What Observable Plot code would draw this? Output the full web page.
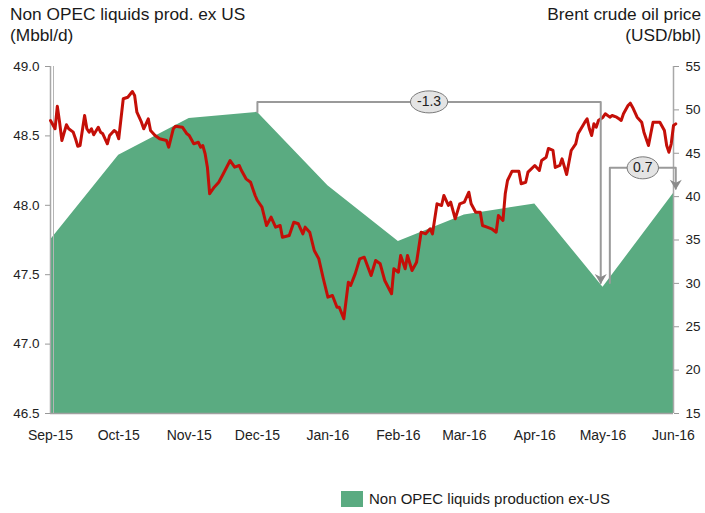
<!DOCTYPE html>
<html><head><meta charset="utf-8">
<script src="https://cdn.jsdelivr.net/npm/d3@7"></script>
<script src="https://cdn.jsdelivr.net/npm/@observablehq/plot@0.6"></script>
<style>
body{margin:0;background:#fff;font-family:"Liberation Sans",Arial,sans-serif;}
#wrap{position:relative;width:705px;height:513px;overflow:hidden;}
#chart{position:absolute;left:0;top:0;}
.title{position:absolute;top:4px;font-size:17.3px;line-height:21px;color:#1a1a1a;white-space:nowrap;}
#tl{left:10px;}
#tr{right:4px;text-align:right;}
#legend{position:absolute;left:341px;top:490px;display:flex;align-items:center;font-size:15px;color:#1a1a1a;white-space:nowrap;}
#legend .sw{width:22px;height:16px;background:#5aab81;margin-right:6px;}
</style></head>
<body>
<div id="wrap">
  <div id="chart"></div>
  <div class="title" id="tl">Non OPEC liquids prod. ex US<br>(Mbbl/d)</div>
  <div class="title" id="tr">Brent crude oil price<br>(USD/bbl)</div>
  <div id="legend"><div class="sw"></div><span>Non OPEC liquids production ex-US</span></div>
</div>
<script>
// ---- Data ----
const prodMonths = ["2015-09-01","2015-10-01","2015-11-01","2015-12-01","2016-01-01","2016-02-01","2016-03-01","2016-04-01","2016-05-01","2016-06-01"];
const prodValues = [47.75, 48.36, 48.625, 48.67, 48.14, 47.74, 47.93, 48.01, 47.41, 48.085];

const leftTicks = [46.5, 47.0, 47.5, 48.0, 48.5, 49.0];
const rightTicks = [15, 20, 25, 30, 35, 40, 45, 50, 55];

const brentDates = [
"2015-09-01","2015-09-03","2015-09-04","2015-09-05","2015-09-06","2015-09-08","2015-09-09","2015-09-11","2015-09-12","2015-09-13",
"2015-09-14","2015-09-16","2015-09-17","2015-09-18","2015-09-19","2015-09-20","2015-09-22","2015-09-23","2015-09-24","2015-09-26",
"2015-09-27","2015-09-29","2015-09-30","2015-10-01","2015-10-03","2015-10-05","2015-10-07","2015-10-08","2015-10-09","2015-10-11",
"2015-10-12","2015-10-14","2015-10-15","2015-10-17","2015-10-19","2015-10-22","2015-10-23","2015-10-25","2015-10-26","2015-10-29",
"2015-10-31","2015-11-01","2015-11-03","2015-11-05","2015-11-06","2015-11-07","2015-11-08","2015-11-09","2015-11-10","2015-11-12",
"2015-11-14","2015-11-16","2015-11-19","2015-11-21","2015-11-23","2015-11-24","2015-11-26","2015-11-28","2015-11-30","2015-12-01",
"2015-12-03","2015-12-05","2015-12-07","2015-12-09","2015-12-11","2015-12-12","2015-12-15","2015-12-17","2015-12-19","2015-12-21",
"2015-12-22","2015-12-24","2015-12-26","2015-12-28","2015-12-30","2016-01-01","2016-01-03","2016-01-05","2016-01-06","2016-01-08",
"2016-01-10","2016-01-11","2016-01-13","2016-01-15","2016-01-17","2016-01-20","2016-01-22","2016-01-24","2016-01-26","2016-01-29",
"2016-01-30","2016-02-01","2016-02-02","2016-02-04","2016-02-05","2016-02-07","2016-02-09","2016-02-11","2016-02-13","2016-02-15",
"2016-02-16","2016-02-18","2016-02-20","2016-02-21","2016-02-23","2016-02-24","2016-02-26","2016-02-28","2016-03-01","2016-03-03",
"2016-03-04","2016-03-06","2016-03-08","2016-03-09","2016-03-11","2016-03-13","2016-03-15","2016-03-16","2016-03-18","2016-03-19",
"2016-03-20","2016-03-22","2016-03-25","2016-03-26","2016-03-28","2016-03-29","2016-04-01","2016-04-03","2016-04-04","2016-04-06",
"2016-04-07","2016-04-09","2016-04-10","2016-04-12","2016-04-13","2016-04-15","2016-04-16","2016-04-17","2016-04-19","2016-04-20",
"2016-04-23","2016-04-24","2016-04-25","2016-04-26","2016-04-27","2016-04-28","2016-04-29","2016-05-01","2016-05-02","2016-05-04",
"2016-05-05","2016-05-07","2016-05-08","2016-05-09","2016-05-10","2016-05-12","2016-05-13","2016-05-14","2016-05-15","2016-05-16",
"2016-05-18","2016-05-19","2016-05-21","2016-05-22","2016-05-23","2016-05-25","2016-05-26","2016-05-28","2016-05-29","2016-05-30",
"2016-05-31","2016-06-01","2016-06-02"];
const brentPrices = [
48.78,47.82,50.42,48.58,46.47,48.28,47.82,47.43,46.67,45.81,
45.89,49.35,47.82,47.43,47.82,47.13,48.00,47.43,47.24,46.09,
47.05,47.62,47.43,46.67,51.28,51.46,52.12,51.66,49.73,48.58,
47.82,48.97,47.62,47.05,46.67,46.47,45.70,47.82,48.12,48.00,
47.24,47.05,46.09,46.27,45.70,45.89,44.94,43.40,40.33,41.09,
41.66,42.63,44.16,43.40,43.59,43.01,42.05,41.66,40.13,39.55,
38.78,36.67,37.63,36.48,36.67,35.32,35.52,37.05,36.87,35.71,
36.48,35.90,33.79,32.83,30.53,28.41,28.60,27.25,27.25,25.92,
30.14,29.76,31.10,32.83,33.02,30.91,32.64,32.26,30.33,28.80,
31.68,31.29,33.21,31.68,33.21,31.48,32.44,35.90,35.71,36.29,
35.71,39.17,38.98,40.13,38.98,39.36,37.44,39.17,39.36,40.51,
39.17,38.20,38.20,36.67,36.48,36.29,35.90,37.82,37.25,40.33,
41.86,42.93,42.93,41.48,41.66,42.82,43.59,43.01,44.16,44.54,
45.55,45.32,43.36,43.59,44.36,42.55,43.93,45.32,46.09,47.24,
48.58,48.97,47.82,47.05,48.39,48.00,48.78,49.16,49.55,49.16,
49.35,49.16,48.97,48.78,49.55,50.50,50.77,50.31,49.73,49.16,
48.58,47.43,45.89,47.24,48.58,48.58,48.58,47.62,45.89,45.12,
46.09,48.20,48.39];

// Change annotations (bracket from start to end, level of the horizontal bar)
const annoLabels = ["-1.3", "0.7"];
const annoStart = ["2015-12-01", "2016-05-04"];
const annoEnd = ["2016-04-30", "2016-06-02"];
const annoStartVal = [48.67, 47.44];
const annoEndVal = [47.44, 48.12];
const annoLevel = [48.745, 48.27];

// ---- Build ----
const parse = s => new Date(s + "T00:00:00Z");
const leftMin = 46.5, leftMax = 49, rightMin = 15, rightMax = 55;
const toLeft = v => leftMin + (v - rightMin) * (leftMax - leftMin) / (rightMax - rightMin);
const fromLeft = y => rightMin + (y - leftMin) * (rightMax - rightMin) / (leftMax - leftMin);

const prod = prodMonths.map((d, i) => ({date: parse(d), value: prodValues[i]}));
const brent = brentDates.map((d, i) => ({date: parse(d), price: brentPrices[i]}));
const annos = annoLabels.map((label, i) => {
  const s = parse(annoStart[i]), e = parse(annoEnd[i]);
  return {label, s, e, mid: new Date((+s + +e) / 2), sv: annoStartVal[i], ev: annoEndVal[i], level: annoLevel[i]};
});
const bracketPts = annos.flatMap((a, i) => [
  {id: i, x: a.s, y: a.sv}, {id: i, x: a.s, y: a.level},
  {id: i, x: a.e, y: a.level}, {id: i, x: a.e, y: a.ev}
]);

const ellipse = (rx, ry) => ({draw(ctx) {
  const k = 0.5523;
  ctx.moveTo(rx, 0);
  ctx.bezierCurveTo(rx, ry * k, rx * k, ry, 0, ry);
  ctx.bezierCurveTo(-rx * k, ry, -rx, ry * k, -rx, 0);
  ctx.bezierCurveTo(-rx, -ry * k, -rx * k, -ry, 0, -ry);
  ctx.bezierCurveTo(rx * k, -ry, rx, -ry * k, rx, 0);
  ctx.closePath();
}});
const arrowHead = {draw(ctx) {
  ctx.moveTo(0, 1); ctx.lineTo(-6, -9); ctx.lineTo(0, -6); ctx.lineTo(6, -9); ctx.closePath();
}};

const chart = Plot.plot({
  width: 705, height: 513,
  marginTop: 66, marginBottom: 100, marginLeft: 50, marginRight: 32,
  x: {type: "utc", domain: [parse(prodMonths[0]), parse(prodMonths[prodMonths.length - 1])], label: null},
  y: {domain: [leftMin, leftMax], label: null},
  style: {fontFamily: "'Liberation Sans', Arial, sans-serif", background: "transparent", color: "#222"},
  marks: [
    Plot.areaY(prod, {x: "date", y: "value", fill: "#5aab81", clip: true}),
    Plot.ruleY([leftMin], {stroke: "#a0a0a0", strokeWidth: 1.5}),
    Plot.ruleX([parse(prodMonths[0])], {stroke: "#a8a8a8", strokeWidth: 1.5}),
    Plot.ruleX([parse(prodMonths[0])], {stroke: "#b5b5b5", strokeWidth: 1, dx: 3}),
    Plot.ruleX([parse(prodMonths[prodMonths.length - 1])], {stroke: "#a8a8a8", strokeWidth: 1.5}),
    Plot.axisY({anchor: "left", ticks: leftTicks, tickFormat: d3.format(".1f"), tickSize: 5, tickPadding: 6,
      stroke: "#999", fill: "#222", fontSize: 13.5, label: null}),
    Plot.axisY({anchor: "right", ticks: rightTicks.map(toLeft), tickFormat: d => String(Math.round(fromLeft(d))),
      tickSize: 5, tickPadding: 7, stroke: "#999", fill: "#222", fontSize: 13.5, label: null}),
    Plot.axisX({ticks: prodMonths.map(parse), tickFormat: d3.utcFormat("%b-%y"), tickSize: 0, tickPadding: 17,
      fill: "#222", fontSize: 14, label: null}),
    Plot.line(brent, {x: "date", y: d => toLeft(d.price), stroke: "#c40f08", strokeWidth: 3, strokeLinejoin: "round"}),
    Plot.line(bracketPts, {x: "x", y: "y", z: "id", stroke: "#9a9a9a", strokeWidth: 2}),
    Plot.dot(annos, {x: "e", y: "ev", symbol: arrowHead, fill: "#8a8a8a", stroke: "none"}),
    ...annos.map(a => Plot.dot([a], {x: "mid", y: "level", symbol: ellipse(7 + a.label.length * 2.9, 11),
      fill: "#e4e4e4", stroke: "#7a7a7a", strokeWidth: 1})),
    Plot.text(annos, {x: "mid", y: "level", text: "label", fontSize: 14, fill: "#222"})
  ]
});
document.getElementById("chart").appendChild(chart);
</script>
</body></html>
